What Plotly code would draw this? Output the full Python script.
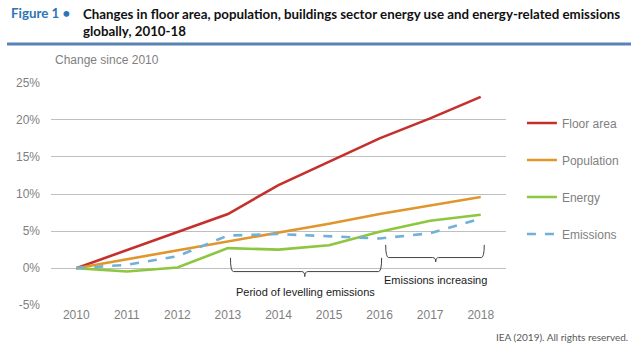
import plotly.graph_objects as go

years = ["2010", "2011", "2012", "2013", "2014", "2015", "2016", "2017", "2018"]
floor_area = [0, 2.4, 4.8, 7.3, 11.2, 14.4, 17.5, 20.2, 23.1]
population = [0, 1.2, 2.3, 3.6, 4.8, 6.0, 7.3, 8.5, 9.6]
energy = [0, -0.45, 0.1, 2.7, 2.5, 3.1, 4.9, 6.4, 7.2]
emissions = [0, 0.45, 1.6, 4.4, 4.6, 4.3, 4.0, 4.7, 6.7]
y_ticks = [-5, 0, 5, 10, 15, 20, 25]
y_tick_labels = ["-5%", "0%", "5%", "10%", "15%", "20%", "25%"]

series = [
    ("Floor area", floor_area, "#c4302b", "solid"),
    ("Population", population, "#e0962b", "solid"),
    ("Energy", energy, "#8dc63f", "solid"),
    ("Emissions", emissions, "#6fb1d9", "dash"),
]

fig = go.Figure()
for i, (name, vals, color, dash) in enumerate(series):
    fig.add_trace(go.Scatter(
        x=years, y=vals, mode="lines", name=name, legendgroup=f"g{i}",
        line=dict(color=color, width=2.6, dash=dash),
    ))

GRAY = "#7f7f7f"
TITLE_FONT = "Lato, Liberation Sans, sans-serif"
fig.update_layout(
    width=642, height=356,
    margin=dict(l=51, r=136, t=82, b=50),
    paper_bgcolor="white", plot_bgcolor="white",
    font=dict(family="Liberation Sans, Arial, sans-serif", size=12, color=GRAY),
    showlegend=True,
    legend=dict(
        x=1.035, y=0.882, xanchor="left", yanchor="top",
        traceorder="grouped", tracegroupgap=18,
        font=dict(size=12, color=GRAY), bgcolor="rgba(0,0,0,0)",
        itemwidth=30,
    ),
    xaxis=dict(
        type="category", range=[-0.5, 8.5], showgrid=False, zeroline=False,
        showline=False, ticks="", tickfont=dict(size=12, color=GRAY),
    ),
    yaxis=dict(
        range=[-5.1, 25.1], tickvals=y_ticks, ticktext=y_tick_labels,
        showgrid=True, gridcolor="#bfbfbf", gridwidth=1,
        zeroline=False, showline=False, ticks="",
        ticklabelstandoff=10, tickfont=dict(size=12, color=GRAY),
    ),
)

# Header rule
fig.add_shape(type="line", xref="paper", yref="paper",
              x0=(7 - 51) / 455, x1=(631 - 51) / 455,
              y0=1 + (82 - 44) / 224, y1=1 + (82 - 44) / 224,
              line=dict(color="#5a82b4", width=3))

# Braces
def brace(x0, x1, xm, top, bot, tip):
    return (f"M {x0},{top} Q {x0},{bot} {x0+0.06},{bot} L {xm-0.06},{bot} "
            f"Q {xm},{bot} {xm},{tip} Q {xm},{bot} {xm+0.06},{bot} "
            f"L {x1-0.06},{bot} Q {x1},{bot} {x1},{top}")

fig.add_shape(type="path", xref="x", yref="y",
              path=brace(3.05, 6.04, 4.52, 1.39, -0.46, -1.13),
              line=dict(color="#404040", width=1))
fig.add_shape(type="path", xref="x", yref="y",
              path=brace(6.12, 8.07, 7.11, 3.14, 1.43, 0.85),
              line=dict(color="#404040", width=1))

fig.add_annotation(x=4.54, y=-3.2, xref="x", yref="y", text="Period of levelling emissions",
                   showarrow=False, font=dict(size=11, color="#1a1a1a"))
fig.add_annotation(x=7.1, y=-1.6, xref="x", yref="y", text="Emissions increasing",
                   showarrow=False, font=dict(size=11, color="#1a1a1a"))

# Titles
fig.add_annotation(x=9, y=13, xref="paper", yref="paper", text="<b>Figure 1 •</b>",
                   showarrow=False, xanchor="left", yanchor="middle",
                   font=dict(family=TITLE_FONT, size=13.3, color="#2e74b5"))
fig.add_annotation(x=81, y=22, xref="paper", yref="paper",
                   text="<b>Changes in floor area, population, buildings sector energy use and energy-related emissions<br>globally, 2010-18</b>",
                   showarrow=False, xanchor="left", yanchor="middle", align="left",
                   font=dict(family=TITLE_FONT, size=13.3, color="#111111"))
fig.add_annotation(x=53, y=60, xref="paper", yref="paper", text="Change since 2010",
                   showarrow=False, xanchor="left", yanchor="middle",
                   font=dict(size=12, color=GRAY))
fig.add_annotation(x=630, y=337, xref="paper", yref="paper", text="IEA (2019). All rights reserved.",
                   showarrow=False, xanchor="right", yanchor="middle",
                   font=dict(family=TITLE_FONT, size=10, color="#595959"))

# convert pixel positions of the page-level annotations to paper coords
for ann in fig.layout.annotations:
    if ann.xref == "paper" and ann.x > 2:
        ann.x = (ann.x - 51) / 455
        ann.y = 1 - (ann.y - 82) / 224

fig.write_html("out.html", config={"displayModeBar": False},
               post_script="document.body.style.margin='0';document.body.style.overflow='hidden';")
